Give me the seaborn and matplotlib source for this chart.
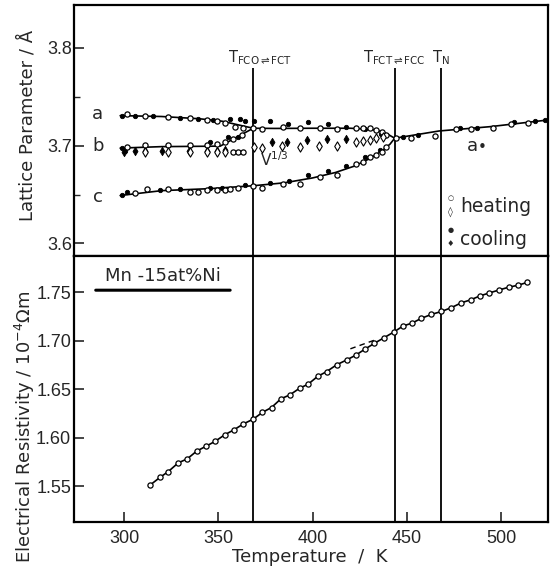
import matplotlib
matplotlib.use("Agg")
import matplotlib.pyplot as plt
import seaborn as sns
import pandas as pd

# ---------------- data ----------------
# transition temperatures (K)
T_trans = [368.5, 443.5, 468.0]
T_names = [r"T$_{\mathregular{FCO\rightleftharpoons FCT}}$",
           r"T$_{\mathregular{FCT\rightleftharpoons FCC}}$",
           r"T$_{\mathregular{N}}$"]

# lattice parameter curves (drawn lines)
a_line_T = [298, 320, 340, 352, 360, 368.5, 380, 400, 420, 430, 436, 440, 443.5]
a_line_v = [3.7307, 3.7298, 3.7275, 3.7250, 3.7215, 3.7178, 3.7176, 3.7178,
            3.7178, 3.7168, 3.7148, 3.7115, 3.7076]
b_line_T = [298, 320, 351, 368.5]
b_line_v = [3.6975, 3.6990, 3.6995, 3.7178]
c_line_T = [298, 320, 345, 368.5, 385, 400, 412, 422, 430, 437, 441, 443.5]
c_line_v = [3.6490, 3.6540, 3.6560, 3.6590, 3.6620, 3.6670, 3.6725, 3.6790,
            3.6865, 3.6950, 3.7015, 3.7076]
cub_line_T = [443.5, 467, 494, 525]
cub_line_v = [3.7076, 3.7150, 3.7194, 3.7263]

# measured points: heating (open) / cooling (filled)
a_heat_T = [301.4, 311.1, 323.5, 335.0, 343.8, 349.1, 353.5, 358.8, 363.2, 368.5,
            372.9, 384.4, 393.2, 403.8, 413.0, 423.2, 426.8, 430.3, 433.8, 437.0, 439.1]
a_heat_v = [3.7321, 3.7307, 3.7297, 3.7280, 3.7263, 3.7253, 3.7235, 3.7194, 3.7178, 3.7178,
            3.7171, 3.7194, 3.7178, 3.7184, 3.7171, 3.7178, 3.7178, 3.7178, 3.7160, 3.7143, 3.7110]
a_cool_T = [298.8, 305.8, 315.5, 329.7, 339.4, 347.3, 356.1, 361.4, 364.0, 368.9,
            377.3, 387.0, 397.6, 408.2, 417.9, 428.0, 436.0]
a_cool_v = [3.7307, 3.7307, 3.7307, 3.7286, 3.7273, 3.7263, 3.7273, 3.7273, 3.7253, 3.7253,
            3.7253, 3.7219, 3.7239, 3.7219, 3.7194, 3.7170, 3.7120]

b_heat_T = [301.4, 311.1, 323.5, 335.0, 343.8, 349.1, 353.5, 357.7, 362.3, 357.7, 360.3, 363.2]
b_heat_v = [3.6990, 3.7007, 3.7007, 3.7010, 3.7010, 3.7014, 3.7040, 3.7073, 3.7113, 3.6930, 3.6930, 3.6930]
b_cool_T = [298.8, 300.5, 345.5, 355.3, 360.5]
b_cool_v = [3.6973, 3.6950, 3.7040, 3.7092, 3.7085]

c_heat_T = [305.8, 312.0, 323.5, 335.0, 339.4, 343.8, 349.1, 353.5, 356.1, 360.3, 368.5,
            372.9, 384.4, 393.2, 403.8, 413.0, 423.2, 426.8, 430.3, 433.8, 437.0, 439.1]
c_heat_v = [3.6520, 3.6557, 3.6557, 3.6528, 3.6528, 3.6544, 3.6544, 3.6550, 3.6559, 3.6569, 3.6590,
            3.6564, 3.6605, 3.6605, 3.6683, 3.6700, 3.6810, 3.6836, 3.6888, 3.6905, 3.6932, 3.6990]
c_cool_T = [298.8, 301.4, 319.1, 329.7, 345.5, 351.8, 364.0, 377.3, 387.5, 397.6, 408.2,
            417.9, 427.6, 435.6]
c_cool_v = [3.6496, 3.6524, 3.6547, 3.6557, 3.6564, 3.6570, 3.6598, 3.6616, 3.6639, 3.6700,
            3.6741, 3.6796, 3.6888, 3.6956]

cub_heat_T = [444.4, 452.4, 464.7, 476.2, 484.2, 495.6, 505.3, 514.1]
cub_heat_v = [3.7076, 3.7082, 3.7102, 3.7171, 3.7171, 3.7184, 3.7219, 3.7229]
cub_cool_T = [448.0, 455.9, 478.0, 487.1, 506.6, 517.7, 523.0]
cub_cool_v = [3.7092, 3.7110, 3.7178, 3.7184, 3.7239, 3.7253, 3.7263]

# V^(1/3): heating (open diamonds) / cooling (filled diamonds)
v_heat_T = [311.1, 323.5, 335.0, 343.8, 349.1, 353.5, 368.9, 372.9, 383.5, 393.2,
            403.3, 413.0, 422.9, 426.8, 430.3, 433.8, 437.4]
v_heat_v = [3.6939, 3.6939, 3.6939, 3.6939, 3.6939, 3.6939, 3.6990, 3.6973, 3.7000, 3.6990,
            3.7000, 3.7000, 3.7040, 3.7048, 3.7058, 3.7076, 3.7092]
v_cool_T = [300.0, 305.8, 311.1, 320.4, 334.4, 343.8, 349.1, 353.5,
            378.2, 386.2, 397.1, 407.7, 417.9]
v_cool_v = [3.6940, 3.6950, 3.6950, 3.6950, 3.6950, 3.6950, 3.6950, 3.6960,
            3.7040, 3.7040, 3.7058, 3.7069, 3.7069]

# electrical resistivity (10^-4 Ohm m)
rho_T = [313.8, 319.1, 323.5, 328.8, 333.5, 338.5, 343.4, 348.2, 353.5, 358.3, 363.2,
         368.5, 373.4, 378.2, 383.2, 387.9, 393.2, 397.6, 402.6, 407.4, 412.7, 418.0,
         422.9, 427.6, 432.6, 437.9, 443.2, 447.9, 452.7, 457.7, 463.0, 468.3, 473.6,
         478.9, 483.8, 488.6, 493.5, 498.6, 503.9, 508.8, 513.8]
rho_v = [1.551, 1.559, 1.565, 1.574, 1.578, 1.586, 1.591, 1.596, 1.603, 1.608, 1.614,
         1.619, 1.626, 1.631, 1.640, 1.644, 1.651, 1.655, 1.663, 1.668, 1.675, 1.680,
         1.685, 1.691, 1.697, 1.703, 1.709, 1.715, 1.718, 1.723, 1.727, 1.730, 1.734,
         1.739, 1.742, 1.746, 1.749, 1.752, 1.755, 1.757, 1.760]
# extrapolated (dashed) high-temperature segment
rho_ext_T = [420.0, 434.0]
rho_ext_v = [1.6915, 1.7013]

upper_yticks = [3.6, 3.7, 3.8]
lower_yticks = [1.55, 1.60, 1.65, 1.70, 1.75]
xticks = [300, 350, 400, 450, 500]

# ---------------- style ----------------
sns.set_style("ticks")
plt.rcParams["font.family"] = ["DejaVu Sans"]
plt.rcParams["mathtext.fontset"] = "dejavusans"
plt.rcParams["axes.linewidth"] = 1.6
plt.rcParams["xtick.direction"] = "in"
plt.rcParams["ytick.direction"] = "in"

fig = plt.figure(figsize=(5.5, 5.68), dpi=100)
ax1 = fig.add_axes([0.1345, 0.549, 0.8627, 0.442])
ax2 = fig.add_axes([0.1345, 0.081, 0.8627, 0.468])

XLIM = (273.5, 525.0)
Y1 = (3.587, 3.8437)
Y2 = (1.513, 1.787)
K = "black"
LW = 1.2
TICKFONT = "Liberation Sans"

# ---- upper panel ----
for T, v in [(a_line_T, a_line_v), (b_line_T, b_line_v), (c_line_T, c_line_v),
             (cub_line_T, cub_line_v)]:
    sns.lineplot(x=T, y=v, ax=ax1, color=K, lw=LW, sort=False, estimator=None)

for T, v in [(a_cool_T, a_cool_v), (b_cool_T, b_cool_v), (c_cool_T, c_cool_v),
             (cub_cool_T, cub_cool_v)]:
    sns.scatterplot(x=T, y=v, ax=ax1, marker="o", s=10, color=K, edgecolor=K,
                    linewidth=0.6, zorder=3)
for T, v in [(a_heat_T, a_heat_v), (b_heat_T, b_heat_v), (c_heat_T, c_heat_v),
             (cub_heat_T, cub_heat_v)]:
    sns.scatterplot(x=T, y=v, ax=ax1, marker="o", s=14, color="white", edgecolor=K,
                    linewidth=0.9, zorder=4)
sns.scatterplot(x=v_heat_T, y=v_heat_v, ax=ax1, marker="d", s=22, color="white",
                edgecolor=K, linewidth=0.8, zorder=4)
sns.scatterplot(x=v_cool_T, y=v_cool_v, ax=ax1, marker="d", s=18, color=K,
                edgecolor=K, linewidth=0.6, zorder=3)

ax1.vlines(T_trans, Y1[0], 3.7794, color=K, lw=1.3)
name_x = [T_trans[0] + 3.5, T_trans[1], T_trans[2]]
for x, name in zip(name_x, T_names):
    ax1.text(x, 3.7897, name, ha="center", va="center", fontsize=10.5)

ax1.text(286.2, 3.7324, "a", ha="center", va="center", fontsize=13)
ax1.text(286.2, 3.6997, "b", ha="center", va="center", fontsize=13)
ax1.text(286.2, 3.6475, "c", ha="center", va="center", fontsize=13)
ax1.text(379.5, 3.6855, r"V$^{\mathregular{1/3}}$", ha="center", va="center", fontsize=11)
ax1.text(484.8, 3.6997, "a", ha="center", va="center", fontsize=13)
ax1.text(490.0, 3.6985, "\u2022", ha="center", va="center", fontsize=11)

# legend
ax1.text(478.0, 3.6376, "heating", ha="left", va="center", fontsize=13.5)
ax1.text(478.0, 3.6036, "cooling", ha="left", va="center", fontsize=13.5)
ax1.text(473.0, 3.6462, "\u25cb", ha="center", va="center", fontsize=5)
ax1.text(473.0, 3.6325, "\u25ca", ha="center", va="center", fontsize=7)
ax1.text(473.0, 3.6138, "\u25cf", ha="center", va="center", fontsize=5)
ax1.text(473.0, 3.6002, "\u2666", ha="center", va="center", fontsize=6)

ax1.set_xlim(XLIM)
ax1.set_ylim(Y1)
ax1.set_yticks(upper_yticks)
ax1.set_yticklabels([f"{t:.1f}" for t in upper_yticks])
ax1.set_yticks([3.65, 3.75], minor=True)
ax1.set_xticks([])
ax1.tick_params(axis="y", which="major", length=7, width=1.2, labelsize=13, pad=1.5,
                labelfontfamily=TICKFONT)
ax1.tick_params(axis="y", which="minor", length=4, width=1.0)
ax1.set_xlabel("")
ax1.set_ylabel("Lattice Parameter / \u00c5", fontsize=13)
ax1.yaxis.set_label_coords(-0.078, 0.522)

# ---- lower panel ----
sns.lineplot(x=rho_T, y=rho_v, ax=ax2, color=K, lw=LW, sort=False, estimator=None)
sns.lineplot(x=rho_ext_T, y=rho_ext_v, ax=ax2, color=K, lw=1.0, linestyle=(0, (4, 3)),
             sort=False, estimator=None)
sns.scatterplot(x=rho_T, y=rho_v, ax=ax2, marker="o", s=14, color="white",
                edgecolor=K, linewidth=0.9, zorder=4)
ax2.vlines(T_trans, Y2[0], Y2[1], color=K, lw=1.3)

ax2.text(0.1875, 0.925, "Mn -15at%Ni", transform=ax2.transAxes, ha="center",
         va="center", fontsize=13)
ax2.annotate("", xy=(0.335, 0.872), xytext=(0.04, 0.872), xycoords="axes fraction",
             arrowprops=dict(arrowstyle="-", lw=2.2, color=K))

ax2.set_xlim(XLIM)
ax2.set_ylim(Y2)
ax2.set_xticks(xticks)
ax2.set_yticks(lower_yticks)
ax2.set_yticklabels([f"{t:.2f}" for t in lower_yticks])
ax2.tick_params(axis="both", which="major", length=7, width=1.2, labelsize=13,
                labelfontfamily=TICKFONT)
ax2.tick_params(axis="y", pad=2)
ax2.tick_params(axis="x", pad=6)
ax2.set_xlabel("Temperature  /  K", fontsize=13)
ax2.xaxis.set_label_coords(0.497, -0.098)
ax2.set_ylabel("Electrical Resistivity / 10$^{\\mathregular{-4}}$\u03a9m", fontsize=13)
ax2.yaxis.set_label_coords(-0.078, 0.357)

for ax in (ax1, ax2):
    for s in ax.spines.values():
        s.set_visible(True)
        s.set_color(K)

fig.savefig("out.png", dpi=100)
